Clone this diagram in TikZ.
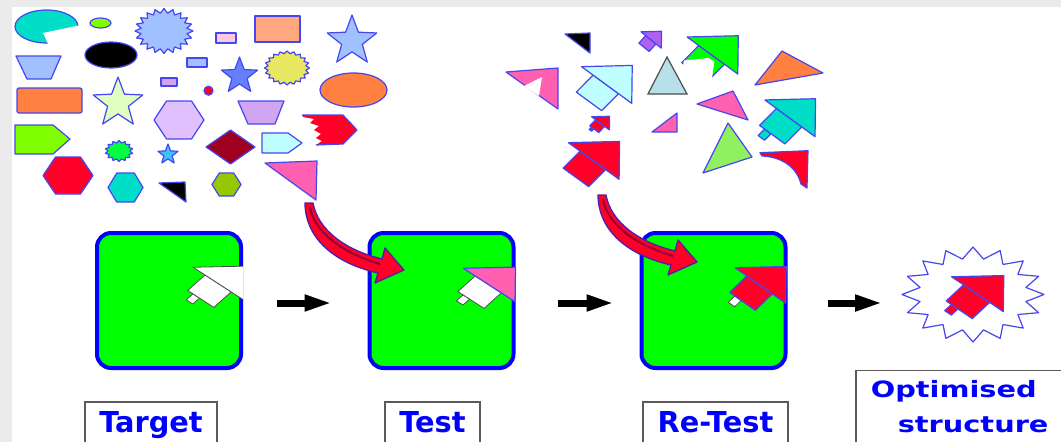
\documentclass[tikz,border=0pt]{standalone}
\usepackage{fontspec}
\setsansfont{DejaVu Sans}
\usetikzlibrary{arrows.meta}

\definecolor{edge}{RGB}{70,70,240}
\definecolor{boxgreen}{RGB}{0,255,0}
\definecolor{boxblue}{RGB}{0,0,255}
\definecolor{hotred}{RGB}{255,0,40}
\definecolor{stripe}{RGB}{150,0,50}
\definecolor{swoopedge}{RGB}{80,30,170}
\definecolor{hotpink}{RGB}{255,96,176}
\definecolor{rosepink}{RGB}{255,200,225}
\definecolor{aqua}{RGB}{0,222,200}
\definecolor{paleblue}{RGB}{160,192,255}
\definecolor{midblue}{RGB}{100,128,255}
\definecolor{lilac}{RGB}{224,192,255}
\definecolor{mauve}{RGB}{210,165,240}
\definecolor{salmon}{RGB}{255,168,128}
\definecolor{tangerine}{RGB}{255,128,64}
\definecolor{limegreen}{RGB}{128,255,0}
\definecolor{palegreen}{RGB}{224,255,192}
\definecolor{icecyan}{RGB}{192,255,255}
\definecolor{maroonred}{RGB}{160,0,32}
\definecolor{olivegreen}{RGB}{150,200,0}
\definecolor{lemon}{RGB}{232,232,96}
\definecolor{skystar}{RGB}{64,192,255}
\definecolor{purplish}{RGB}{176,96,240}
\definecolor{greytri}{RGB}{184,224,232}
\definecolor{leaf}{RGB}{144,240,96}
\definecolor{spring}{RGB}{0,255,64}
\definecolor{lblgrey}{RGB}{90,90,90}

\tikzset{
  shp/.style={draw=edge, line width=1.2pt, line join=round},
  slotedge/.style={draw=black!70, line width=0.8pt, fill=white, line join=round},
  gbox/.style={draw=boxblue, fill=boxgreen, line width=4pt, rounded corners=14pt,
    minimum width=144pt, minimum height=135pt, inner sep=0pt},
  swoop/.style={fill=hotred, draw=swoopedge, line width=1.3pt, line join=round},
  fat/.style={line width=7pt, -{Triangle[length=28pt, width=15pt]}},
  lbl/.style={draw=lblgrey, line width=1.6pt, text=boxblue,
    font=\fontsize{28.8}{34}\selectfont\sffamily\bfseries,
    inner xsep=14.5pt, inner ysep=10pt, text height=21pt, text depth=20pt, anchor=north},
  piece/.style n args={4}{shift={(#1,-#2)}, xscale=#3, yscale=#4}
}

% starburst / star: centre x, centre y, radius x, radius y, points, inner ratio, fill
\newcommand{\burst}[7]{%
  \pgfmathtruncatemacro\burstn{2*#5-1}%
  \filldraw[shp, fill=#7, shift={(#1,-#2)}, xscale=#3, yscale=#4]
    (90:1) \foreach \k in {1,...,\burstn} {-- ({90+\k*180/#5}:{1-(1-#6)*mod(\k,2)})} -- cycle;}
% hexagon: centre x, centre y, half width, half height, fill
\newcommand{\hexa}[5]{%
  \filldraw[shp, fill=#5, shift={(#1,-#2)}, xscale=#3, yscale=#4]
    (1,0) -- (0.5,1) -- (-0.5,1) -- (-1,0) -- (-0.5,-1) -- (0.5,-1) -- cycle;}
% arrow pieces
\newcommand{\headpart}[2][shp]{\filldraw[#1, fill=#2] (-25.4,17.8) -- (25.8,19) -- (25.3,-17.8) -- cycle;}
\newcommand{\bodypart}[2][shp]{\filldraw[#1, fill=#2] (-13.7,9.6) -- (11.9,-8.4) -- (-5.1,-24.9) -- (-30.7,-6.9) -- cycle;}
\newcommand{\stempart}[2][shp]{\filldraw[#1, fill=#2] (-25.6,-10.5) -- (-19.2,-15) -- (-25.7,-21.3) -- (-32.1,-16.8) -- cycle;}

\begin{document}
\begin{tikzpicture}[x=1pt, y=1pt]

\useasboundingbox (0,0) rectangle (1061,-442);
\fill[black!8] (0,0) rectangle (1061,-442);
\fill[white] (12,-7) rectangle (1061,-442);

% loose shapes
\filldraw[shp, fill=aqua] (46.5,-26.5) ellipse [x radius=31.5, y radius=16.5];
\fill[white] (43,-33) -- (81,-25) -- (83,-48) -- (50,-48) -- cycle;
\filldraw[shp, fill=limegreen] (100.5,-23) ellipse [x radius=10.5, y radius=5];
\burst{164}{31}{29}{22.5}{20}{0.8}{paleblue}
\filldraw[shp, fill=rosepink] (216,-33) rectangle (236,-43);
\filldraw[shp, fill=salmon] (255,-16) rectangle (300,-42);
\burst{352}{41}{26}{26}{5}{0.42}{paleblue}
\filldraw[shp, fill=black] (111,-55) ellipse [x radius=26, y radius=13];
\filldraw[shp, fill=paleblue] (16,-56) -- (61,-56) -- (51,-79) -- (27,-79) -- cycle;
\filldraw[shp, fill=paleblue] (187,-58) rectangle (207,-67);
\burst{239.5}{76}{19}{19}{5}{0.42}{midblue}
\burst{287}{68}{22.5}{17}{20}{0.85}{lemon}
\filldraw[shp, fill=mauve] (161,-78) rectangle (177,-86);
\filldraw[shp, fill=hotred] (208.5,-90.7) circle [radius=4.5];
\filldraw[shp, fill=tangerine] (353.5,-90) ellipse [x radius=33.5, y radius=17];
\filldraw[shp, fill=tangerine, rounded corners=2pt] (17,-88) rectangle (82,-113);
\burst{118}{103}{26}{26}{5}{0.42}{palegreen}
\hexa{179}{120}{25}{19}{lilac}
\filldraw[shp, fill=mauve] (238,-101) -- (284,-101) -- (275,-124) -- (248,-124) -- cycle;
\fill[hotred] (302,-115) -- (343,-115) -- (357,-130) -- (343,-144) -- (316,-145) -- (322,-141) -- (316,-138)
  -- (321,-134) -- (314,-130) -- (319,-126) -- (310,-123) -- (314,-119) -- (303,-117) -- cycle;
\draw[shp] (302,-115) -- (343,-115) -- (357,-130) -- (343,-144) -- (316,-145);
\filldraw[shp, fill=limegreen] (15,-125) -- (53,-125) -- (70,-139) -- (53,-154) -- (15,-154) -- cycle;
\burst{119}{151}{14}{10.5}{14}{0.78}{spring}
\burst{168}{154.5}{10.5}{10.5}{5}{0.42}{skystar}
\filldraw[shp, fill=maroonred] (206,-147) -- (230.5,-130) -- (255,-147) -- (230.5,-164) -- cycle;
\filldraw[shp, fill=icecyan] (262,-133) -- (288,-133) -- (302,-143) -- (288,-153) -- (262,-153) -- cycle;
\hexa{68}{175.5}{25}{18.5}{hotred}
\hexa{125.5}{187.5}{17.5}{14.5}{aqua}
\filldraw[shp, fill=black] (159,-183) -- (185,-182) -- (186,-202) -- cycle;
\hexa{226.5}{184.5}{14.5}{11.5}{olivegreen}
\filldraw[shp, fill=hotpink] (265,-163) -- (317,-161) -- (316,-200) -- cycle;

% loose arrow pieces
\filldraw[shp, fill=black] (565,-34) -- (590,-33) -- (590,-53) -- cycle;
\begin{scope}[piece={651.2}{40}{0.4}{0.46}]
  \bodypart{purplish} \headpart{purplish}
\end{scope}
\begin{scope}[piece={712.5}{55.5}{1.0}{1.04}]
  \bodypart{boxgreen} \headpart{boxgreen}
\end{scope}
\fill[white] (684,-60.5) -- (708.3,-58) -- (714.3,-61.3) -- (711,-86) -- (680,-86) -- cycle;
\filldraw[shp, fill=tangerine] (782,-51) -- (823,-73) -- (755,-85) -- cycle;
\filldraw[shp, fill=hotpink] (506,-72) -- (558,-68) -- (558,-109) -- cycle;
\fill[white] (524,-86) -- (542,-77) -- (539,-96) -- cycle;
\begin{scope}[piece={606.7}{85}{0.99}{1.03}]
  \bodypart{icecyan} \headpart{icecyan}
\end{scope}
\filldraw[draw=black!70, line width=1.2pt, fill=greytri] (667,-57) -- (687,-94) -- (648,-94) -- cycle;
\filldraw[shp, fill=hotpink] (697,-104) -- (733,-91) -- (748,-120) -- cycle;
\begin{scope}[piece={790}{118.3}{0.99}{1.03}]
  \stempart{aqua} \bodypart{aqua} \headpart{aqua}
\end{scope}
\begin{scope}[piece={600.5}{123.3}{0.35}{0.37}]
  \stempart{hotred} \bodypart{hotred} \headpart{hotred}
\end{scope}
\filldraw[shp, fill=hotpink] (652,-132) -- (677,-113) -- (677,-132) -- cycle;
\filldraw[shp, fill=leaf] (728,-123) -- (752,-157) -- (703,-173) -- cycle;
\begin{scope}[piece={593.8}{161}{1.0}{1.03}]
  \bodypart{hotred} \headpart{hotred}
\end{scope}
\filldraw[shp, fill=hotred] (760,-152.7) -- (808,-150.7) -- (807,-188) -- (801,-184)
  .. controls (797,-168) and (783,-157) .. (762,-156) -- cycle;

% boxes
\node[gbox] (target) at (169,-300.5) {};
\node[gbox] (test) at (441.5,-300.5) {};
\node[gbox] (retest) at (713.5,-300.5) {};
\coordinate (optin) at (883,-303);

\begin{scope}
  \clip (target.north west) rectangle (target.south east);
  \begin{scope}[piece={219}{284}{1.02}{0.94}]
    \stempart[slotedge]{white} \bodypart[slotedge]{white} \headpart[slotedge]{white}
  \end{scope}
\end{scope}
\begin{scope}[piece={489.2}{285}{1.02}{0.94}]
  \stempart[slotedge]{white} \bodypart[slotedge]{white} \headpart{hotpink}
\end{scope}
\begin{scope}[piece={760.4}{285.5}{1}{1}]
  \stempart[slotedge]{white} \bodypart{hotred} \headpart{hotred}
\end{scope}

\burst{973}{294.5}{71}{47.5}{16}{0.76}{white}
\begin{scope}[piece={977.5}{294.2}{1.02}{0.98}]
  \stempart{hotred} \bodypart{hotred} \headpart{hotred}
\end{scope}

\foreach \dx/\dy in {0/0, 293/8} {
  \begin{scope}[shift={(\dx,\dy)}]
    \filldraw[swoop] (305,-203) .. controls (305,-235) and (330,-262) .. (378,-273) -- (375,-283)
      -- (404,-270) -- (385,-248) -- (382,-259) .. controls (345,-250) and (318,-230) .. (313,-203) -- cycle;
    \draw[stripe, line width=2pt] (310,-207) .. controls (314,-231) and (340,-252) .. (380,-264);
  \end{scope}
}

\draw[fat] ([shift={(34pt,-2.5pt)}]target.east) -- ([shift={(-35pt,-2.5pt)}]test.west);
\draw[fat] ([shift={(42pt,-2.5pt)}]test.east) -- ([shift={(-25pt,-2.5pt)}]retest.west);
\draw[fat] ([shift={(40pt,-2.5pt)}]retest.east) -- (optin);

\node[lbl] (targetlbl) at (151,-401) {Target};
\node[lbl] (testlbl) at (432.5,-401) {Test};
\node[lbl] (retestlbl) at (715.5,-401) {Re-Test};
\node[draw=lblgrey, line width=1.6pt, text=boxblue, align=left,
  font=\fontsize{28.8}{45}\selectfont\sffamily\bfseries,
  inner xsep=15pt, inner ysep=12pt, anchor=north west, yscale=0.78, transform shape]
  (optlbl) at (855,-370) {Optimised\\\hspace*{27pt}structure\rule[-30pt]{0pt}{0pt}};

\end{tikzpicture}
\end{document}
